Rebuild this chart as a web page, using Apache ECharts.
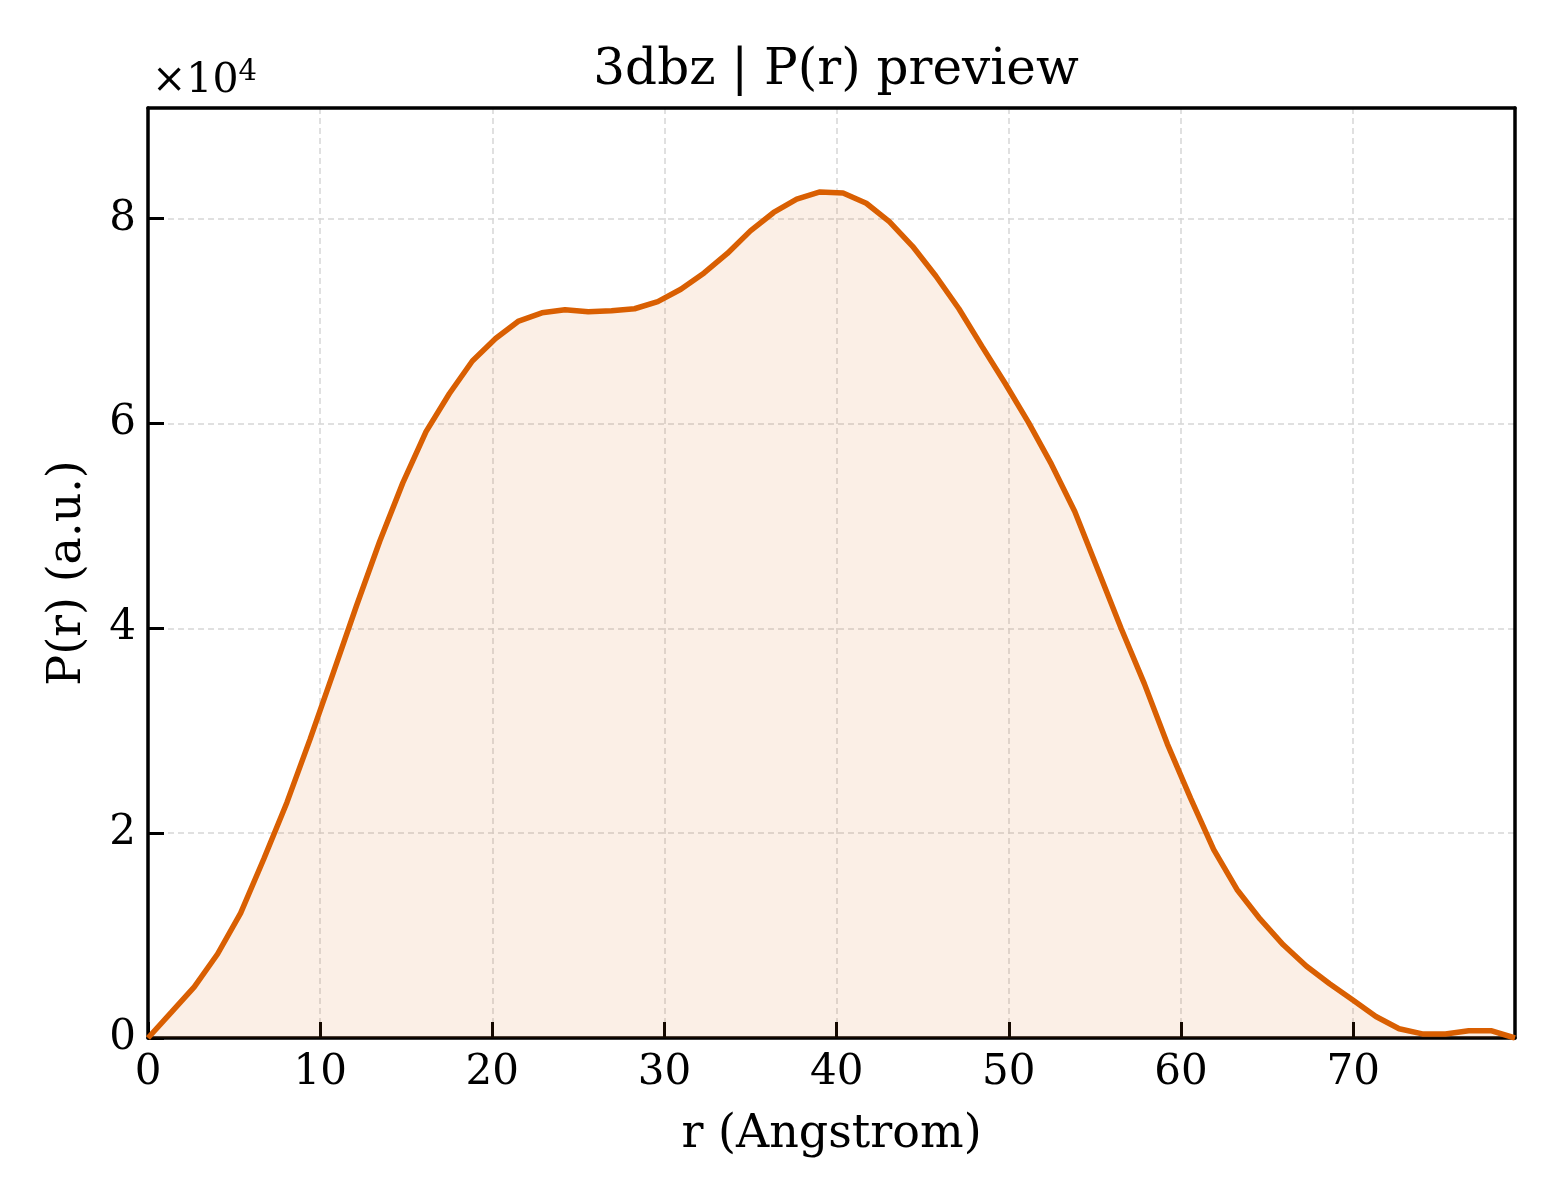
<!DOCTYPE html>
<html>
<head>
<meta charset="utf-8">
<title>3dbz | P(r) preview</title>
<script src="https://cdn.jsdelivr.net/npm/echarts@6/dist/echarts.min.js"></script>
<style>
  html, body { margin: 0; padding: 0; background: #fff; }
  #chart { width: 1560px; height: 1200px; }
</style>
</head>
<body>
<div id="chart"></div>
<script>
// r values (Angstrom) of the P(r) curve
const rValues = [
  0.00, 1.35, 2.69, 4.04, 5.38, 6.73, 8.07, 9.42, 10.77, 12.11,
  13.46, 14.80, 16.15, 17.50, 18.84, 20.19, 21.53, 22.88, 24.22, 25.57,
  26.92, 28.26, 29.61, 30.95, 32.30, 33.65, 34.99, 36.34, 37.68, 39.03,
  40.37, 41.72, 43.06, 44.41, 45.76, 47.10, 48.45, 49.79, 51.14, 52.48,
  53.83, 55.18, 56.52, 57.87, 59.21, 60.56, 61.90, 63.25, 64.60, 65.94,
  67.29, 68.63, 69.98, 71.32, 72.67, 74.02, 75.36, 76.71, 78.05, 79.40
];

// P(r) values (a.u.)
const prValues = [
  0, 2500, 5000, 8200, 12200, 17500, 23000, 29200, 35700, 42200,
  48500, 54200, 59200, 62900, 66100, 68300, 70000, 70800, 71100, 70900,
  71000, 71200, 71900, 73100, 74700, 76600, 78800, 80600, 81900, 82600,
  82500, 81500, 79700, 77300, 74400, 71200, 67500, 63900, 60100, 56000,
  51400, 45700, 40000, 34600, 28700, 23400, 18400, 14500, 11600, 9100,
  7000, 5300, 3700, 2100, 900, 400, 400, 700, 700, 0
];

const xTicks = [0, 10, 20, 30, 40, 50, 60, 70];
const yTicks = [0, 2, 4, 6, 8];  // in units of 1e4

const seriesData = rValues.map((r, i) => [r, prValues[i]]);

const FONT = 'DejaVu Serif';
const ORANGE = '#d95f02';
const X_MAX = 79.4;
const Y_MAX = 90800;

const chart = echarts.init(document.getElementById('chart'), null, { renderer: 'canvas' });

const gridLine = { show: true, showMinLine: false, showMaxLine: false,
  lineStyle: { color: '#d6d6d6', width: 1.5, type: [6, 4] } };
const spine = { show: true, onZero: false, lineStyle: { color: '#000', width: 3.5 } };
const tick = { show: true, inside: true, length: 16, lineStyle: { color: '#000', width: 3 } };

chart.setOption({
  backgroundColor: '#ffffff',
  animation: false,
  title: {
    text: '3dbz | P(r) preview',
    left: 831,
    top: 41,
    textAlign: 'center',
    textStyle: { fontFamily: FONT, fontSize: 50, fontWeight: 'normal', color: '#000' }
  },
  graphic: [{
    type: 'text',
    left: 152,
    top: 58,
    style: {
      text: '×10{sup|4}',
      fontFamily: FONT,
      fontSize: 41,
      fill: '#000',
      rich: {
        sup: { fontFamily: FONT, fontSize: 29, verticalAlign: 'top', padding: [0, 0, 18, 0] }
      }
    }
  }],
  grid: {
    left: 148,
    top: 108,
    width: 1367,
    height: 930,
    show: false
  },
  xAxis: [{
    type: 'value',
    min: 0,
    max: X_MAX,
    interval: 10,
    name: 'r (Angstrom)',
    nameLocation: 'middle',
    nameGap: 74,
    nameTextStyle: { fontFamily: FONT, fontSize: 46, color: '#000' },
    axisLine: spine,
    axisTick: tick,
    axisLabel: {
      fontFamily: FONT, fontSize: 42, color: '#000', margin: 14,
      showMaxLabel: false,
      formatter: v => (xTicks.indexOf(v) >= 0 ? String(v) : '')
    },
    splitLine: gridLine
  }, {
    type: 'value',
    position: 'top',
    min: 0,
    max: X_MAX,
    interval: 10,
    axisLine: spine,
    axisTick: { show: false },
    axisLabel: { show: false },
    splitLine: { show: false }
  }],
  yAxis: [{
    type: 'value',
    min: 0,
    max: Y_MAX,
    interval: 20000,
    name: 'P(r) (a.u.)',
    nameLocation: 'middle',
    nameGap: 57,
    nameTextStyle: { fontFamily: FONT, fontSize: 46, color: '#000' },
    axisLine: spine,
    axisTick: tick,
    axisLabel: {
      fontFamily: FONT, fontSize: 42, color: '#000', margin: 12,
      showMaxLabel: false,
      formatter: v => {
        const t = v / 10000;
        return yTicks.indexOf(t) >= 0 ? String(t) : '';
      }
    },
    splitLine: gridLine
  }, {
    type: 'value',
    position: 'right',
    min: 0,
    max: Y_MAX,
    interval: 20000,
    axisLine: spine,
    axisTick: { show: false },
    axisLabel: { show: false },
    splitLine: { show: false }
  }],
  series: [{
    type: 'line',
    data: seriesData,
    showSymbol: false,
    smooth: false,
    lineStyle: { color: ORANGE, width: 5.5 },
    itemStyle: { color: ORANGE },
    areaStyle: { color: 'rgba(217, 95, 2, 0.14)' },
    z: 3
  }]
});
</script>
</body>
</html>
